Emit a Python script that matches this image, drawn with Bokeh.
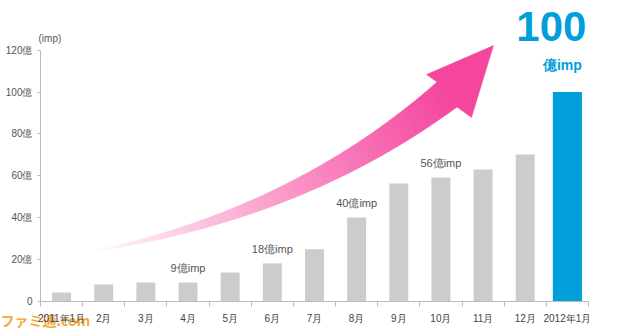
import numpy as np
from bokeh.plotting import figure
from bokeh.models import FixedTicker, Range1d
from bokeh.core.properties import value
from bokeh.embed import file_html
from bokeh.resources import INLINE

# ---------------- data ----------------
months = ["2011年1月", "2月", "3月", "4月", "5月", "6月", "7月",
          "8月", "9月", "10月", "11月", "12月", "2012年1月"]
impressions = [4.3, 8.1, 9.1, 9.1, 13.9, 18.2, 24.9, 40.1, 56.3, 59.2, 63.0, 70.2, 100.0]
annot_months = ["4月", "6月", "8月", "10月"]
annot_text = ["9億imp", "18億imp", "40億imp", "56億imp"]
y_ticks = [0, 20, 40, 60, 80, 100, 120]
y_tick_labels = ["0", "20億", "40億", "60億", "80億", "100億", "120億"]
headline_value = "100"
headline_unit = "億imp"
y_unit_label = "(imp)"
watermark = "ファミ通.com"

# ---------------- figure ----------------
FONT = "Liberation Sans"
xs = list(range(1, len(months) + 1))

# pixel helpers (y axis at 40px, baseline at 301px)
PX_PER_X = 42.15
PX_PER_Y = 2.095
def dx(px):
    return 0.5 + (px - 40) / PX_PER_X
def dy(py):
    return (301 - py) / PX_PER_Y

p = figure(width=618, height=330, output_backend="svg", toolbar_location=None,
           x_range=Range1d(dx(0), dx(618)), y_range=Range1d(dy(330), dy(0)),
           min_border=0)
p.outline_line_color = None
p.xgrid.visible = False
p.ygrid.visible = False
p.background_fill_color = "white"
p.border_fill_color = "white"

# ---------------- arrow (decoration) ----------------
P0 = np.array([97.0, 250.0])
P1 = np.array([300.0, 212.0])
P2 = np.array([446.5, 94.0])
N = 90
ts = np.linspace(0, 1, N + 1)
def bez(t):
    return (1 - t) ** 2 * P0 + 2 * t * (1 - t) * P1 + t ** 2 * P2
def tan(t):
    v = 2 * (1 - t) * (P1 - P0) + 2 * t * (P2 - P1)
    return v / np.linalg.norm(v)
def halfw(t):
    return (1.0 + 30.8 * t ** 1.1) / 2
Ls, Rs = [], []
for t in ts:
    c = bez(t)
    tv = tan(t)
    n = np.array([tv[1], -tv[0]])
    w = halfw(t)
    Ls.append(c + w * n)
    Rs.append(c - w * n)
c0 = np.array([255, 250, 252])
c1 = np.array([245, 70, 158])
xs_list, ys_list, cols = [], [], []
for i in range(N):
    poly = [Ls[i], Ls[i + 1], Rs[i + 1], Rs[i]]
    xm = (bez(ts[i])[0] + bez(ts[i + 1])[0]) / 2
    f = min(max((xm - 97) / (445 - 97), 0), 1)
    col = (c0 + (c1 - c0) * f).astype(int)
    cols.append("#%02x%02x%02x" % tuple(col))
    xs_list.append([dx(q[0]) for q in poly])
    ys_list.append([dy(q[1]) for q in poly])
p.patches(xs_list, ys_list, fill_color=cols, line_color=cols, line_width=0.7)
nl, nr = Ls[-1], Rs[-1]
head = [nl, (426, 74), (493, 45), (471, 117), nr]
p.patch([dx(q[0]) for q in head], [dy(q[1]) for q in head],
        fill_color="#f5469e", line_color="#f5469e", line_width=0.5)

# ---------------- bars ----------------
p.vbar(x=xs[:-1], top=impressions[:-1], width=0.45, fill_color="#cccccc", line_color=None)
p.vbar(x=xs[-1:], top=impressions[-1:], width=0.69, fill_color="#009fda", line_color=None)

ax = [months.index(m) + 1 for m in annot_months]
ay = [impressions[months.index(m)] for m in annot_months]
p.text(x=ax, y=ay, text=annot_text, text_align="center", text_baseline="middle",
       y_offset=-14, text_font_size="11px", text_color="#555555", text_font=value(FONT))

p.text(x=[xs[-1]], y=[impressions[-1]], text=[headline_value], text_align="center",
       text_baseline="middle", x_offset=-16, y_offset=-66, text_font_size="42px",
       text_font_style="bold", text_color="#009fda", text_font=value(FONT))
p.text(x=[xs[-1]], y=[impressions[-1]], text=[headline_unit], text_align="center",
       text_baseline="middle", x_offset=-5, y_offset=-27, text_font_size="14px",
       text_font_style="bold", text_color="#009fda", text_font=value(FONT))

# y unit label
p.text(x=[0.5], y=[y_ticks[-1]], text=[y_unit_label], text_align="left",
       text_baseline="middle", x_offset=-2, y_offset=-12, text_font_size="10px",
       text_color="#555555", text_font=value(FONT))

# ---------------- axes ----------------
xa = p.xaxis[0]
xa.fixed_location = 0
xa.ticker = FixedTicker(ticks=xs, minor_ticks=[x - 0.5 for x in xs] + [xs[-1] + 0.5])
xa.major_label_overrides = {x: m for x, m in zip(xs, months)}
xa.bounds = (0.5, xs[-1] + 0.5)
xa.major_tick_out = 0
xa.major_tick_in = 0
xa.minor_tick_out = 5
xa.minor_tick_in = 0
xa.major_label_standoff = 6
xa.axis_line_color = "#bbbbbb"
xa.minor_tick_line_color = "#bbbbbb"
xa.major_label_text_font_size = "10px"
xa.major_label_text_color = "#444444"
xa.major_label_text_font = FONT

ya = p.yaxis[0]
ya.fixed_location = 0.5
ya.ticker = FixedTicker(ticks=y_ticks, minor_ticks=[])
ya.major_label_overrides = {v: s for v, s in zip(y_ticks, y_tick_labels)}
ya.bounds = (y_ticks[0], y_ticks[-1])
ya.major_tick_out = 3
ya.major_tick_in = 0
ya.major_label_standoff = 5
ya.axis_line_color = "#bbbbbb"
ya.major_tick_line_color = "#bbbbbb"
ya.major_label_text_font_size = "10px"
ya.major_label_text_color = "#555555"
ya.major_label_text_font = FONT

# watermark (drawn beneath the axis labels)
p.text(x=[0.5], y=[0], text=[watermark], x_offset=-40, y_offset=28,
       text_font_size="14px", text_font_style="bold", text_color="#f4aa3c",
       text_font=value("Noto Sans CJK JP"), text_baseline="bottom", text_align="left",
       level="underlay")

open("out.html", "w").write(file_html(p, INLINE))
